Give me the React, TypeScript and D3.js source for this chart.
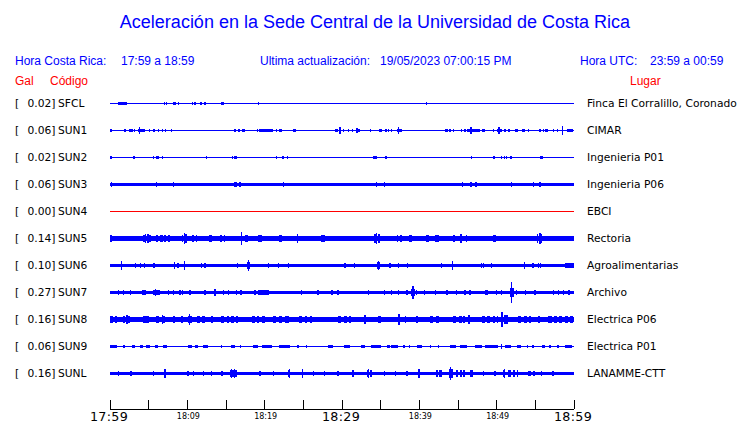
import React from "react";
import * as d3 from "d3";

// ---------- DATA ----------
const titleText = "Aceleración en la Sede Central de la Universidad de Costa Rica";
const localRange = "17:59 a 18:59";
const utcRange = "23:59 a 00:59";
const updated = "19/05/2023 07:00:15 PM";

const codes = ["SFCL", "SUN1", "SUN2", "SUN3", "SUN4", "SUN5", "SUN6", "SUN7", "SUN8", "SUN9", "SUNL"];
const places = [
  "Finca El Corralillo, Coronado",
  "CIMAR",
  "Ingenieria P01",
  "Ingenieria P06",
  "EBCI",
  "Rectoria",
  "Agroalimentarias",
  "Archivo",
  "Electrica P06",
  "Electrica P01",
  "LANAMME-CTT",
];
const peakGal = [0.02, 0.06, 0.02, 0.06, 0.0, 0.14, 0.1, 0.27, 0.16, 0.06, 0.16];
// background noise level of each trace (relative amplitude)
const noiseLevel = [0.05, 0.05, 0.05, 0.125, 0.037, 0.185, 0.125, 0.125, 0.17, 0.04, 0.125];

// events: [start minute, end minute, relative half-amplitude]; minutes after 17:59
type Ev = [number, number, number];
const evSFCL: Ev[] = [
  [1.08, 2.2, 0.1], [7.03, 7.03, 0.1], [7.28, 7.28, 0.1], [8.15, 8.49, 0.1], [8.84, 8.84, 0.1],
  [10.65, 10.65, 0.08], [10.99, 10.99, 0.08], [11.64, 11.94, 0.1], [12.28, 12.28, 0.08],
  [14.35, 14.78, 0.1], [19.18, 19.18, 0.08], [40.86, 41.03, 0.08], [49.7, 49.7, 0.06],
];
const evSUN1: Ev[] = [
  [0, 0.2, 0.1], [1.94, 1.94, 0.08], [2.46, 2.97, 0.1], [3.15, 3.15, 0.08], [3.66, 4.53, 0.1], [3.84, 3.84, 0.23],
  [5.09, 5.09, 0.08], [5.69, 5.69, 0.08], [6.25, 6.25, 0.08], [6.77, 6.77, 0.08], [7.2, 7.2, 0.08], [7.97, 7.97, 0.08],
  [11.94, 11.94, 0.06], [14.0, 14.0, 0.06], [15.04, 15.04, 0.06], [16.08, 16.25, 0.1], [16.6, 16.85, 0.1],
  [17.11, 17.46, 0.1], [18.97, 19.18, 0.1], [19.27, 21.03, 0.1], [21.55, 21.55, 0.08], [21.98, 21.98, 0.08],
  [22.2, 22.2, 0.08], [23.7, 24.0, 0.1], [24.7, 24.7, 0.07], [25.43, 25.43, 0.07], [26.03, 26.03, 0.07],
  [26.5, 26.5, 0.07], [26.94, 26.94, 0.07], [27.37, 27.37, 0.07], [29.1, 29.53, 0.1], [29.74, 29.74, 0.27],
  [30.17, 30.17, 0.08], [30.82, 30.82, 0.08], [31.34, 31.34, 0.08], [31.9, 32.37, 0.1], [31.94, 31.94, 0.2],
  [33.7, 33.7, 0.08], [34.78, 35.22, 0.1], [35.69, 35.69, 0.1], [35.99, 35.99, 0.1], [36.42, 36.42, 0.1],
  [37.07, 37.72, 0.1], [37.28, 37.28, 0.25], [38.15, 38.15, 0.07], [38.84, 38.84, 0.07], [40.09, 40.09, 0.07],
  [40.82, 40.82, 0.07], [43.32, 43.75, 0.1], [43.97, 43.97, 0.08], [44.4, 44.4, 0.08], [45.47, 45.47, 0.1],
  [45.9, 45.9, 0.1], [46.12, 47.84, 0.1], [46.68, 46.68, 0.27], [48.06, 48.49, 0.1], [49.57, 49.57, 0.08],
  [50.0, 50.65, 0.1], [50.3, 50.3, 0.25], [51.08, 51.08, 0.08], [51.6, 51.6, 0.08], [52.37, 52.8, 0.1],
  [53.23, 53.66, 0.1], [54.1, 54.1, 0.08], [55.6, 55.6, 0.08], [56.03, 56.03, 0.08], [56.25, 56.68, 0.1],
  [57.33, 57.33, 0.08], [57.89, 57.89, 0.08], [58.49, 58.49, 0.3], [59.05, 59.91, 0.1],
];
const evSUN2: Ev[] = [
  [0.13, 0.13, 0.1], [3.1, 3.1, 0.1], [5.6, 5.6, 0.08], [5.95, 6.34, 0.1], [6.77, 6.77, 0.08],
  [12.5, 12.5, 0.1], [15.82, 15.82, 0.08], [16.08, 16.42, 0.1], [21.5, 21.5, 0.08], [22.28, 22.5, 0.1],
  [22.93, 22.93, 0.1], [24.1, 24.1, 0.06], [34.05, 34.48, 0.1], [35.69, 35.69, 0.1], [42.97, 42.97, 0.06],
  [46.77, 46.77, 0.1], [47.2, 47.41, 0.07], [47.76, 47.76, 0.06], [49.57, 49.7, 0.1], [50.65, 50.65, 0.1],
  [50.99, 50.99, 0.1], [51.29, 51.29, 0.1], [51.72, 51.94, 0.1], [52.72, 52.72, 0.06], [53.32, 53.32, 0.06],
  [55.6, 56.03, 0.1],
];
const evSUN3: Ev[] = [
  [0.22, 0.22, 0.2], [6.03, 6.03, 0.22], [8.19, 8.19, 0.18], [16.08, 16.38, 0.22], [16.81, 16.81, 0.18],
  [22.41, 22.41, 0.22], [34.48, 34.48, 0.18], [35.47, 35.47, 0.15], [45.47, 45.7, 0.22], [46.68, 46.68, 0.2],
  [47.33, 47.33, 0.2], [51.8, 52.0, 0.22], [54.74, 54.74, 0.15], [55.6, 55.6, 0.2],
];
const evSUN4: Ev[] = [];
const evSUN5: Ev[] = [
  [0, 0.3, 0.25], [0.8, 1.0, 0.22], [1.4, 1.5, 0.22], [2.0, 2.2, 0.22], [2.7, 2.8, 0.2], [3.2, 3.3, 0.22],
  [4.3, 4.5, 0.27], [4.6, 4.6, 0.35], [4.8, 5.0, 0.3], [5.1, 5.2, 0.25], [5.9, 6.2, 0.26], [6.5, 6.8, 0.27],
  [7.0, 7.3, 0.25], [7.5, 7.7, 0.24], [8.0, 8.2, 0.22], [9.3, 9.5, 0.28], [9.6, 9.6, 0.43], [9.7, 10.0, 0.3],
  [10.6, 10.9, 0.27], [11.1, 11.3, 0.26], [11.8, 12.0, 0.22], [12.8, 13.2, 0.27], [14.2, 14.5, 0.25],
  [14.7, 14.9, 0.24], [15.5, 15.7, 0.22], [16.9, 17.1, 0.45], [17.4, 17.8, 0.25], [18.3, 18.5, 0.22],
  [19.2, 19.6, 0.25], [20.5, 20.7, 0.2], [21.8, 22.2, 0.25], [23.0, 23.2, 0.22], [24.2, 24.3, 0.37],
  [25.6, 25.8, 0.2], [26.4, 26.6, 0.22], [27.3, 27.5, 0.25], [27.6, 27.8, 0.23], [28.5, 28.7, 0.2],
  [29.5, 29.9, 0.22], [30.8, 31.0, 0.22], [32.3, 32.5, 0.22], [33.3, 33.5, 0.22], [34.2, 34.4, 0.3],
  [34.5, 34.5, 0.4], [34.6, 34.9, 0.3], [35.8, 36.0, 0.22], [37.1, 37.3, 0.25], [37.5, 37.7, 0.24],
  [38.6, 39.0, 0.25], [39.8, 40.0, 0.22], [40.9, 41.2, 0.27], [42.0, 42.5, 0.25], [43.2, 43.4, 0.22],
  [44.4, 44.6, 0.25], [45.2, 45.5, 0.32], [46.0, 46.1, 0.25], [47.0, 47.3, 0.22], [48.0, 48.3, 0.22],
  [49.5, 49.9, 0.25], [50.8, 51.0, 0.22], [52.0, 52.2, 0.22], [53.5, 53.8, 0.22], [55.2, 55.4, 0.33],
  [55.5, 55.6, 0.44], [55.7, 55.9, 0.32], [57.0, 57.2, 0.22], [58.0, 58.2, 0.22], [58.6, 58.9, 0.22],
  [59.2, 59.5, 0.22], [59.7, 59.9, 0.22],
];
const evSUN6: Ev[] = [
  [1.5, 1.5, 0.32], [3.3, 3.3, 0.2], [3.9, 3.9, 0.2], [4.5, 4.5, 0.2], [5.7, 5.7, 0.2], [8.3, 8.3, 0.27],
  [8.8, 8.8, 0.2], [9.6, 9.6, 0.32], [11.85, 11.85, 0.18], [12.3, 12.3, 0.18], [16.5, 16.5, 0.2],
  [17.7, 18.1, 0.25], [17.9, 17.9, 0.38], [20.5, 20.5, 0.15], [21.8, 21.8, 0.15], [23.1, 23.1, 0.15],
  [30.4, 30.4, 0.2], [31.6, 31.6, 0.18], [34.5, 34.9, 0.25], [34.7, 34.7, 0.33], [36.2, 36.2, 0.18],
  [37.3, 37.3, 0.18], [38.5, 38.5, 0.18], [42.9, 42.9, 0.18], [44.3, 44.3, 0.36], [48.0, 48.0, 0.18],
  [48.3, 48.3, 0.18], [49.3, 49.3, 0.18], [53.6, 53.6, 0.27], [54.7, 54.7, 0.18], [55.4, 55.4, 0.18],
  [55.7, 55.7, 0.18], [58.8, 60, 0.17],
];
const evSUN7: Ev[] = [
  [1.08, 1.08, 0.2], [1.72, 1.72, 0.2], [2.67, 2.67, 0.2], [4.2, 4.7, 0.2], [5.5, 6.5, 0.2], [5.9, 5.9, 0.25],
  [7.54, 7.54, 0.2], [8.19, 8.19, 0.2], [9.05, 9.05, 0.2], [9.35, 9.35, 0.2], [10.34, 10.34, 0.2],
  [12.28, 12.28, 0.2], [13.5, 13.7, 0.28], [14.66, 14.66, 0.2], [15.3, 15.3, 0.2], [16.38, 16.38, 0.2],
  [16.94, 16.94, 0.2], [18.75, 18.75, 0.2], [19.2, 20.5, 0.2], [24.8, 24.8, 0.22], [26.9, 26.9, 0.18],
  [28.7, 28.7, 0.18], [29.5, 29.5, 0.18], [33.4, 33.4, 0.2], [35.5, 35.5, 0.2], [36.3, 36.5, 0.22],
  [37.3, 37.3, 0.2], [38.4, 38.4, 0.2], [38.9, 39.5, 0.28], [39.2, 39.2, 0.45], [39.6, 39.6, 0.22],
  [40.7, 40.7, 0.2], [42.1, 42.1, 0.2], [43.5, 43.75, 0.22], [44.8, 44.8, 0.2], [45.9, 45.9, 0.18],
  [46.55, 46.55, 0.18], [48.5, 48.9, 0.2], [50.0, 50.0, 0.18], [50.65, 50.65, 0.2], [51.7, 52.2, 0.3],
  [51.94, 51.94, 0.8], [52.6, 52.6, 0.2], [53.7, 53.7, 0.18], [54.96, 54.96, 0.18], [57.33, 57.33, 0.2],
  [57.97, 57.97, 0.2], [58.6, 58.6, 0.2], [59.35, 59.35, 0.2],
];
const evSUN8: Ev[] = [
  [0, 0.4, 0.25], [0.6, 0.9, 0.27], [1.7, 2.0, 0.25], [2.2, 2.2, 0.3], [2.3, 2.6, 0.25], [4.3, 5.0, 0.23],
  [5.9, 6.3, 0.28], [6.7, 6.8, 0.33], [6.9, 7.1, 0.27], [8.2, 8.4, 0.23], [9.2, 9.4, 0.23], [10.1, 10.2, 0.28],
  [10.3, 10.3, 0.38], [10.4, 10.5, 0.27], [11.2, 11.6, 0.23], [11.9, 12.3, 0.24], [13.1, 13.3, 0.23],
  [14.4, 14.8, 0.23], [15.1, 15.4, 0.26], [15.7, 16.0, 0.23], [16.3, 16.6, 0.23], [18.3, 18.7, 0.23],
  [19.0, 19.3, 0.27], [19.6, 20.0, 0.23], [21.1, 21.5, 0.23], [21.8, 22.3, 0.26], [22.6, 23.1, 0.23],
  [24.4, 24.8, 0.23], [25.2, 25.5, 0.23], [25.8, 26.1, 0.23], [29.5, 29.9, 0.23], [30.2, 30.6, 0.23],
  [30.9, 31.2, 0.23], [32.9, 33.0, 0.3], [34.7, 35.1, 0.27], [37.3, 37.4, 0.38], [38.1, 38.3, 0.25],
  [39.6, 39.8, 0.25], [41.4, 41.8, 0.24], [42.1, 42.5, 0.24], [44.4, 44.8, 0.24], [45.1, 45.5, 0.24],
  [45.7, 45.9, 0.24], [46.3, 46.5, 0.33], [48.1, 48.5, 0.24], [48.8, 49.2, 0.27], [49.5, 49.8, 0.24],
  [50.0, 50.2, 0.24], [50.6, 50.7, 0.52], [51.0, 51.5, 0.3], [52.8, 53.2, 0.24], [53.5, 53.9, 0.24],
  [54.2, 54.5, 0.24], [55.4, 55.6, 0.27], [56.7, 57.1, 0.24], [57.4, 57.8, 0.24], [58.1, 58.5, 0.28],
  [58.8, 59.2, 0.24], [59.5, 59.9, 0.25],
];
const evSUN9: Ev[] = [
  [0, 0.86, 0.1], [1.81, 1.81, 0.1], [2.8, 3.23, 0.1], [3.9, 4.3, 0.1], [4.6, 5.2, 0.1], [5.8, 6.25, 0.1],
  [6.9, 7.33, 0.1], [10.1, 10.56, 0.1], [11.0, 11.4, 0.1], [12.07, 12.7, 0.1], [14.44, 14.44, 0.1],
  [15.7, 16.16, 0.1], [16.8, 17.0, 0.1], [18.5, 19.2, 0.1], [19.6, 20.9, 0.1], [21.8, 23.3, 0.1],
  [24.3, 24.3, 0.1], [25.4, 25.4, 0.08], [28.2, 28.9, 0.1], [30.2, 31.0, 0.1], [32.5, 33.0, 0.1],
  [33.8, 35.1, 0.1], [35.8, 36.2, 0.1], [36.4, 37.3, 0.1], [37.9, 38.1, 0.1], [38.7, 38.7, 0.1],
  [39.7, 40.3, 0.1], [41.4, 41.4, 0.1], [42.5, 42.5, 0.1], [44.0, 44.8, 0.1], [45.3, 46.1, 0.1],
  [47.2, 48.1, 0.1], [48.5, 50.2, 0.1], [50.65, 50.65, 0.2], [51.1, 51.9, 0.1], [52.6, 53.2, 0.1],
  [53.9, 54.1, 0.1], [54.7, 54.7, 0.1], [55.8, 56.3, 0.1], [56.9, 56.9, 0.1], [57.8, 58.0, 0.1],
  [58.8, 59.7, 0.1],
];
const evSUNL: Ev[] = [
  [1.08, 1.08, 0.22], [2.7, 2.7, 0.2], [5.6, 5.6, 0.15], [7.1, 7.1, 0.3], [10.1, 10.1, 0.18],
  [10.8, 10.8, 0.18], [12.1, 12.1, 0.18], [13.1, 13.1, 0.18], [14.5, 14.5, 0.18], [15.5, 15.6, 0.25],
  [15.7, 15.7, 0.37], [15.8, 16.0, 0.25], [16.1, 16.1, 0.33], [16.2, 16.4, 0.24], [19.4, 19.4, 0.18],
  [21.1, 21.1, 0.18], [23.0, 23.3, 0.25], [23.2, 23.2, 0.33], [24.9, 24.9, 0.37], [26.3, 26.3, 0.18],
  [27.7, 27.7, 0.18], [29.5, 29.5, 0.18], [31.3, 31.6, 0.25], [33.2, 33.3, 0.25], [33.4, 33.4, 0.3],
  [33.6, 33.7, 0.24], [33.8, 33.8, 0.28], [35.5, 35.5, 0.18], [36.9, 36.9, 0.2], [38.4, 38.4, 0.18],
  [39.8, 40.1, 0.3], [42.2, 42.4, 0.24], [42.6, 42.9, 0.25], [43.8, 43.9, 0.35], [44.0, 44.0, 0.5],
  [44.1, 44.3, 0.33], [44.7, 45.0, 0.25], [45.3, 45.5, 0.24], [45.7, 45.9, 0.25], [46.6, 47.0, 0.27],
  [48.3, 48.3, 0.18], [49.8, 49.8, 0.18], [50.8, 50.9, 0.25], [51.0, 51.0, 0.33], [51.5, 51.9, 0.27],
  [52.1, 52.4, 0.27], [52.6, 52.8, 0.25], [54.1, 54.4, 0.2], [54.7, 55.0, 0.2], [55.8, 55.8, 0.18],
  [57.3, 57.3, 0.18],
];
const events: Ev[][] = [evSFCL, evSUN1, evSUN2, evSUN3, evSUN4, evSUN5, evSUN6, evSUN7, evSUN8, evSUN9, evSUNL];

const windowMinutes = 60;
const tickStepMinutes = 5;

// ---------- CHART ----------
const W = 740;
const H = 423;
const BLUE = "#0000ff";
const RED = "#ff0000";
const sans = "'Liberation Sans', Arial, sans-serif";
const dejavu = "'DejaVu Sans', sans-serif";

export default function App() {
  const start = new Date(2023, 4, 19, 17, 59);
  const end = d3.timeMinute.offset(start, windowMinutes);
  const at = (m: number) => new Date(start.getTime() + m * 60000);
  const x = d3.scaleTime().domain([start, end]).range([110, 574]);
  const row = d3.scalePoint<string>().domain(codes).range([103.5, 373.5]);
  const amp = d3.scaleLinear().domain([0, 1]).range([0, 13.5]);
  const ticks = d3.range(0, windowMinutes + 1, tickStepMinutes).map((m) => d3.timeMinute.offset(start, m));
  const fmt = d3.timeFormat("%H:%M");
  const axisY = 409;

  return (
    <svg width={W} height={H} style={{ display: "block", position: "absolute", left: 0, top: 0, background: "#fff" }}>
      <text x={375} y={28} textAnchor="middle" fill={BLUE} fontFamily={sans} fontSize={18}>
        {titleText}
      </text>
      <g fontFamily={sans} fontSize={12} fill={BLUE}>
        <text x={15} y={65}>Hora Costa Rica:</text>
        <text x={121} y={65}>{localRange}</text>
        <text x={260} y={65}>Ultima actualización:</text>
        <text x={380} y={65}>{updated}</text>
        <text x={580} y={65}>Hora UTC:</text>
        <text x={650} y={65}>{utcRange}</text>
      </g>
      <g fontFamily={sans} fontSize={12} fill={RED}>
        <text x={15} y={85}>Gal</text>
        <text x={50} y={85}>Código</text>
        <text x={630} y={85}>Lugar</text>
      </g>
      {codes.map((c, i) => {
        const cy = row(c)!;
        const color = peakGal[i] === 0 ? RED : BLUE;
        const bh = Math.max(1, 2 * amp(noiseLevel[i]));
        return (
          <g key={c}>
            <g fontFamily={dejavu} fontSize={10.7} fill="#000">
              <text x={15} y={cy + 3.5}>[</text>
              <text x={55.5} y={cy + 3.5} textAnchor="end">{peakGal[i].toFixed(2) + "]"}</text>
              <text x={58} y={cy + 3.5}>{c}</text>
              <text x={587} y={cy + 3.5}>{places[i]}</text>
            </g>
            <g fill={color} shapeRendering="crispEdges">
              <rect x={x(start)} y={cy - bh / 2} width={x(end) - x(start)} height={bh} />
              {events[i].map((e, j) => {
                const x0 = x(at(e[0]));
                const x1 = x(at(e[1]));
                const w = Math.max(1.3, x1 - x0);
                const left = e[1] === e[0] ? x0 - w / 2 : x0;
                const h = 2 * amp(e[2]);
                return <rect key={j} x={left} y={cy - h / 2} width={w} height={h} />;
              })}
            </g>
          </g>
        );
      })}
      <g shapeRendering="crispEdges" stroke="#000">
        <line x1={x(start)} x2={x(end)} y1={axisY} y2={axisY} />
        {ticks.map((t, i) => (
          <line key={i} x1={x(t)} x2={x(t)} y1={axisY - 9} y2={axisY} />
        ))}
      </g>
      <g fontFamily={dejavu} fill="#000" textAnchor="middle">
        {ticks.map((t, i) =>
          i % 6 === 0 ? (
            <text key={i} x={x(t) - 1} y={421} fontSize={12.7} letterSpacing={0.3}>{fmt(t)}</text>
          ) : i % 2 === 0 ? (
            <text key={i} x={x(t) + 1} y={418.5} fontSize={8}>{fmt(t)}</text>
          ) : null
        )}
      </g>
    </svg>
  );
}
